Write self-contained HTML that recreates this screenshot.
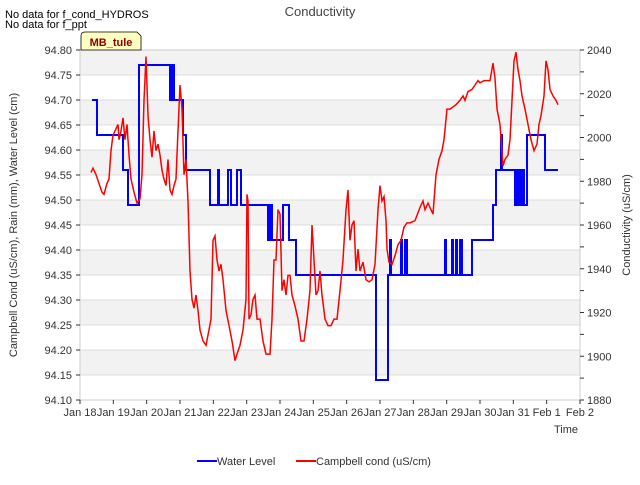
<!DOCTYPE html>
<html><head><meta charset="utf-8"><style>
body{margin:0;background:#fff}
svg text{font-family:"Liberation Sans","DejaVu Sans",sans-serif}
</style></head><body>
<svg id="chart" width="640" height="480" xmlns="http://www.w3.org/2000/svg">
<text x="5" y="18" font-size="11">No data for f_cond_HYDROS</text>
<text x="5" y="28" font-size="11">No data for f_ppt</text>
<text x="320" y="16" font-size="13" text-anchor="middle" fill="#444">Conductivity</text>
<g id="bands"></g>
<g id="grid"></g>
<g id="series"></g>
<rect x="80" y="50" width="500" height="350" fill="none" stroke="#ccc"/>
<g id="axes"></g>
<g>
<path d="M81,50 L81,36 Q81,32 85,32 L137,32 L141,36 L141,50 Z" fill="#ffffc0" stroke="#000" stroke-width="0.8"/>
<text x="111" y="46" font-size="11" font-weight="bold" text-anchor="middle" fill="#8b0000">MB_tule</text>
</g>
<text transform="translate(17,225) rotate(-90)" font-size="11" text-anchor="middle" fill="#333">Campbell Cond (uS/cm), Rain (mm), Water Level (cm)</text>
<text transform="translate(630,225) rotate(-90)" font-size="11" text-anchor="middle" fill="#333">Conductivity (uS/cm)</text>
<text x="566" y="433" font-size="11" text-anchor="middle" fill="#333">Time</text>
<g>
<line x1="197" y1="461" x2="217" y2="461" stroke="#00f" stroke-width="2"/>
<text x="217" y="465" font-size="11" fill="#333">Water Level</text>
<line x1="296" y1="461" x2="316" y2="461" stroke="#f00" stroke-width="2"/>
<text x="316" y="465" font-size="11" fill="#333">Campbell cond (uS/cm)</text>
</g>
</svg>
<script>
const xTickLabels=["Jan 18","Jan 19","Jan 20","Jan 21","Jan 22","Jan 23","Jan 24","Jan 25","Jan 26","Jan 27","Jan 28","Jan 29","Jan 30","Jan 31","Feb 1","Feb 2"];
const leftTicks=[94.10,94.15,94.20,94.25,94.30,94.35,94.40,94.45,94.50,94.55,94.60,94.65,94.70,94.75,94.80];
const rightTicks=[1880,1900,1920,1940,1960,1980,2000,2020,2040];
const wlTimes=[0.36,0.51,1.29,1.44,1.77,2.70,2.76,2.82,3.09,3.18,3.90,4.14,4.17,4.44,4.53,4.71,4.83,5.64,5.70,5.76,6.09,6.27,6.48,8.88,9.24,9.30,9.33,9.63,9.66,9.75,9.81,10.95,10.98,11.16,11.19,11.28,11.31,11.40,11.46,11.76,12.39,12.48,12.63,12.66,13.05,13.11,13.14,13.20,13.23,13.29,13.32,13.41,13.95,14.34];
const wlVals=[94.70,94.63,94.56,94.49,94.77,94.70,94.77,94.70,94.63,94.56,94.49,94.56,94.49,94.56,94.49,94.56,94.49,94.42,94.49,94.42,94.49,94.42,94.35,94.14,94.35,94.42,94.35,94.42,94.35,94.42,94.35,94.42,94.35,94.42,94.35,94.42,94.35,94.42,94.35,94.42,94.49,94.56,94.63,94.56,94.49,94.56,94.49,94.56,94.49,94.56,94.49,94.63,94.56,94.56];
const condTimes=[0.33,0.39,0.48,0.57,0.66,0.72,0.81,0.87,0.93,0.99,1.08,1.14,1.17,1.23,1.29,1.35,1.41,1.47,1.53,1.62,1.71,1.80,1.86,1.92,1.98,2.04,2.10,2.16,2.22,2.28,2.34,2.40,2.46,2.52,2.58,2.64,2.70,2.76,2.82,2.88,2.94,3.00,3.06,3.12,3.18,3.24,3.30,3.36,3.42,3.48,3.54,3.60,3.69,3.78,3.87,3.93,3.99,4.05,4.11,4.17,4.23,4.29,4.38,4.47,4.56,4.65,4.71,4.80,4.89,4.98,5.01,5.04,5.07,5.13,5.19,5.25,5.31,5.40,5.49,5.58,5.70,5.76,5.82,5.88,5.94,6.00,6.06,6.12,6.18,6.24,6.30,6.36,6.45,6.54,6.63,6.72,6.81,6.90,6.96,7.02,7.08,7.14,7.20,7.26,7.35,7.44,7.53,7.62,7.71,7.80,7.89,7.98,8.04,8.10,8.16,8.22,8.28,8.34,8.40,8.49,8.58,8.67,8.76,8.85,8.94,9.00,9.06,9.12,9.18,9.21,9.27,9.36,9.45,9.54,9.63,9.72,9.81,9.90,10.05,10.20,10.29,10.35,10.44,10.50,10.59,10.68,10.77,10.86,10.92,11.01,11.10,11.19,11.28,11.40,11.49,11.55,11.64,11.76,11.85,11.94,12.00,12.12,12.21,12.30,12.39,12.45,12.51,12.60,12.69,12.75,12.84,12.90,12.96,13.02,13.08,13.14,13.20,13.26,13.35,13.44,13.53,13.62,13.71,13.77,13.83,13.92,13.98,14.04,14.10,14.19,14.28,14.34];
const condVals=[1984,1986,1983,1979,1975,1974,1979,1981,1994,2001,2004,2006,1999,2003,2009,1999,2006,1992,1981,1975,1970,1972,1983,2017,2037,2010,1999,1991,2003,1994,1997,1992,1985,1981,1978,1990,1976,1974,1978,1981,2003,2024,2013,1983,1990,1971,1939,1926,1922,1928,1921,1912,1907,1905,1912,1917,1953,1955,1944,1939,1942,1935,1921,1914,1907,1898,1901,1905,1912,1926,1974,1971,1917,1919,1926,1928,1917,1917,1907,1901,1901,1917,1944,1944,1967,1965,1930,1935,1928,1937,1937,1928,1923,1917,1907,1907,1917,1930,1960,1944,1928,1930,1939,1928,1917,1914,1914,1917,1917,1930,1944,1967,1976,1953,1960,1962,1939,1949,1939,1943,1935,1934,1935,1942,1967,1978,1971,1973,1962,1949,1943,1942,1946,1951,1953,1959,1961,1961,1962,1968,1971,1967,1970,1968,1965,1983,1990,1994,1999,2013,2013,2014,2015,2017,2019,2017,2021,2022,2024,2026,2025,2026,2026,2026,2034,2027,2013,2006,1987,1990,1992,1999,2017,2035,2039,2031,2026,2019,2013,2006,1999,1994,1997,2006,2010,2019,2035,2031,2022,2019,2017,2015];

const NS="http://www.w3.org/2000/svg";
const L=80,R=580,T=50,B=400;
const xs=d=>L+d*(R-L)/15;
const yl=v=>B-(v-94.10)*(B-T)/0.70;
const yr=v=>B-(v-1880)*(B-T)/160;
function mk(tag,attrs,parent){const e=document.createElementNS(NS,tag);for(const k in attrs)e.setAttribute(k,attrs[k]);parent.appendChild(e);return e;}
const bands=document.getElementById('bands'),grid=document.getElementById('grid'),axes=document.getElementById('axes'),series=document.getElementById('series');
for(let i=0;i<leftTicks.length-1;i++){
  if(i%2===1){const r=mk('rect',{x:L,y:yl(leftTicks[i+1]),width:R-L,height:yl(leftTicks[i])-yl(leftTicks[i+1]),fill:'#f2f2f2'},bands);
  
  }
}
leftTicks.forEach(v=>{
  const g=mk('line',{x1:L,x2:R,y1:yl(v),y2:yl(v),stroke:'#dcdcdc'},grid);
  
  
  const t=mk('text',{x:72,y:yl(v)+4,'font-size':11,'text-anchor':'end',fill:'#333'},axes);
  
  
  t.textContent=v.toFixed(2);
  mk('line',{x1:L-4,x2:L,y1:yl(v),y2:yl(v),stroke:'#333'},axes);
});
for(let v=1880;v<=2040;v+=10){mk('line',{x1:R,x2:R+4,y1:yr(v),y2:yr(v),stroke:'#333'},axes);}
rightTicks.forEach(v=>{
  const t=mk('text',{x:587,y:yr(v)+4,'font-size':11,fill:'#333'},axes);
  
  
  t.textContent=v;
});
xTickLabels.forEach((s,i)=>{
  mk('line',{x1:xs(i),x2:xs(i),y1:B,y2:B+4,stroke:'#333'},axes);
  const t=mk('text',{x:xs(i),y:416,'font-size':11,'text-anchor':'middle',fill:'#333'},axes);
  
  
  t.textContent=s;
});
let d='';
wlTimes.forEach((t,i)=>{const x=xs(t),y=yl(wlVals[i]);if(i===0)d+='M'+x+','+y;else d+=' L'+x+','+yl(wlVals[i-1])+' L'+x+','+y;});
const wl=mk('path',{d:d,fill:'none',stroke:'#0000ff','stroke-width':2},series);


const cp=mk('polyline',{points:condTimes.map((t,i)=>xs(t)+','+yr(condVals[i])).join(' '),fill:'none',stroke:'#ff0000','stroke-width':1.5},series);


</script>
</body></html>
